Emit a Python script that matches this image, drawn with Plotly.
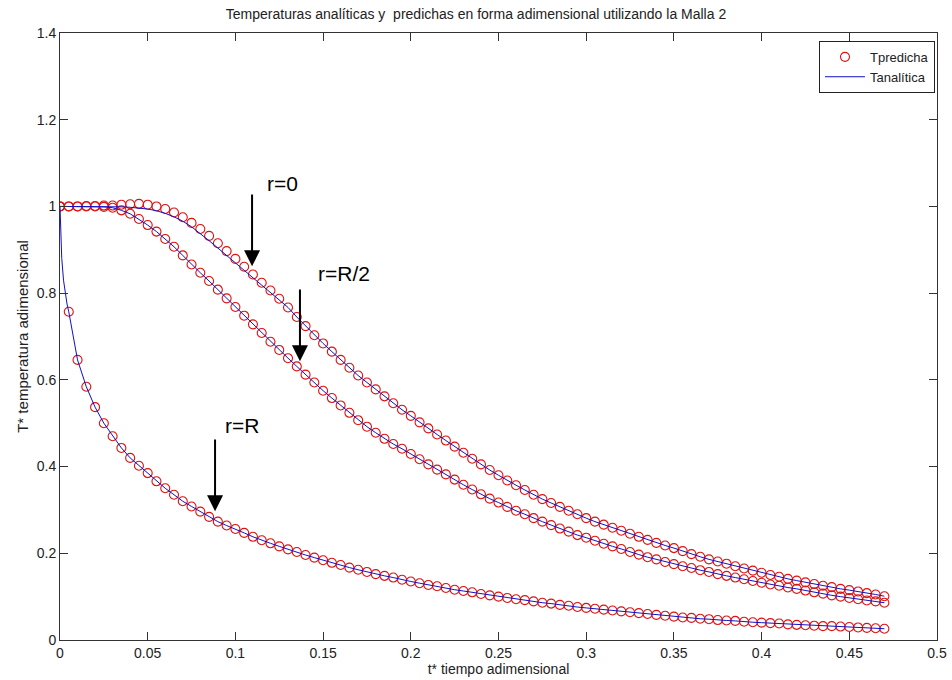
import plotly.graph_objects as go

# ---------------- data ----------------
t = [0.000, 0.005, 0.010, 0.015, 0.020, 0.025, 0.030, 0.035, 0.040, 0.045,
     0.050, 0.055, 0.060, 0.065, 0.070, 0.075, 0.080, 0.085, 0.090, 0.095,
     0.100, 0.105, 0.110, 0.115, 0.120, 0.125, 0.130, 0.135, 0.140, 0.145,
     0.150, 0.155, 0.160, 0.165, 0.170, 0.175, 0.180, 0.185, 0.190, 0.195,
     0.200, 0.205, 0.210, 0.215, 0.220, 0.225, 0.230, 0.235, 0.240, 0.245,
     0.250, 0.255, 0.260, 0.265, 0.270, 0.275, 0.280, 0.285, 0.290, 0.295,
     0.300, 0.305, 0.310, 0.315, 0.320, 0.325, 0.330, 0.335, 0.340, 0.345,
     0.350, 0.355, 0.360, 0.365, 0.370, 0.375, 0.380, 0.385, 0.390, 0.395,
     0.400, 0.405, 0.410, 0.415, 0.420, 0.425, 0.430, 0.435, 0.440, 0.445,
     0.450, 0.455, 0.460, 0.465, 0.470]

# r = 0 (centre), predicted
T_pred_r0 = [1.000, 1.000, 1.000, 1.001, 1.001, 1.002, 1.002, 1.004, 1.005, 1.006,
             1.004, 1.000, 0.994, 0.986, 0.975, 0.962, 0.948, 0.932, 0.915, 0.897,
             0.879, 0.861, 0.843, 0.824, 0.806, 0.787, 0.767, 0.745, 0.724, 0.703,
             0.684, 0.665, 0.646, 0.628, 0.610, 0.594, 0.578, 0.562, 0.546, 0.531,
             0.517, 0.502, 0.488, 0.474, 0.460, 0.446, 0.432, 0.418, 0.405, 0.392,
             0.380, 0.368, 0.357, 0.346, 0.335, 0.325, 0.316, 0.307, 0.298, 0.290,
             0.281, 0.273, 0.266, 0.259, 0.252, 0.245, 0.238, 0.231, 0.224, 0.218,
             0.212, 0.205, 0.198, 0.192, 0.186, 0.181, 0.176, 0.170, 0.165, 0.160,
             0.155, 0.150, 0.146, 0.141, 0.137, 0.133, 0.129, 0.125, 0.122, 0.118,
             0.115, 0.112, 0.108, 0.105, 0.101]

# r = 0 (centre), analytic
T_anal_r0 = [1.000, 1.000, 1.000, 1.000, 1.000, 1.000, 1.000, 0.999, 0.998, 0.996,
             0.994, 0.990, 0.984, 0.976, 0.966, 0.953, 0.938, 0.921, 0.904, 0.887,
             0.869, 0.852, 0.836, 0.819, 0.802, 0.785, 0.767, 0.745, 0.724, 0.703,
             0.684, 0.665, 0.646, 0.628, 0.610, 0.594, 0.578, 0.562, 0.546, 0.531,
             0.517, 0.502, 0.488, 0.474, 0.460, 0.446, 0.432, 0.418, 0.405, 0.392,
             0.380, 0.368, 0.357, 0.346, 0.335, 0.325, 0.316, 0.307, 0.298, 0.290,
             0.281, 0.273, 0.266, 0.259, 0.252, 0.245, 0.238, 0.231, 0.224, 0.218,
             0.212, 0.205, 0.198, 0.192, 0.186, 0.181, 0.176, 0.170, 0.165, 0.160,
             0.155, 0.150, 0.146, 0.141, 0.137, 0.133, 0.129, 0.125, 0.122, 0.118,
             0.115, 0.112, 0.108, 0.105, 0.101]

# r = R/2 (predicted and analytic coincide)
T_rhalf = [1.000, 1.000, 1.000, 1.000, 1.000, 0.999, 0.997, 0.991, 0.983, 0.971,
           0.957, 0.942, 0.925, 0.907, 0.887, 0.866, 0.847, 0.828, 0.808, 0.788,
           0.768, 0.748, 0.728, 0.708, 0.688, 0.669, 0.650, 0.631, 0.612, 0.594,
           0.575, 0.558, 0.541, 0.524, 0.507, 0.492, 0.478, 0.464, 0.452, 0.441,
           0.429, 0.417, 0.405, 0.393, 0.382, 0.370, 0.358, 0.347, 0.336, 0.326,
           0.317, 0.307, 0.298, 0.290, 0.281, 0.273, 0.265, 0.257, 0.250, 0.242,
           0.236, 0.229, 0.222, 0.216, 0.210, 0.203, 0.197, 0.191, 0.186, 0.180,
           0.175, 0.170, 0.166, 0.161, 0.157, 0.152, 0.148, 0.144, 0.140, 0.136,
           0.132, 0.128, 0.125, 0.121, 0.118, 0.114, 0.110, 0.107, 0.103, 0.100,
           0.097, 0.094, 0.091, 0.089, 0.086]

# r = R (surface)
T_rR = [1.000, 0.757, 0.646, 0.584, 0.537, 0.500, 0.470, 0.443, 0.420, 0.402,
        0.385, 0.366, 0.350, 0.335, 0.320, 0.308, 0.296, 0.284, 0.273, 0.264,
        0.256, 0.247, 0.238, 0.230, 0.223, 0.216, 0.209, 0.203, 0.196, 0.190,
        0.184, 0.178, 0.173, 0.167, 0.162, 0.157, 0.152, 0.148, 0.144, 0.139,
        0.135, 0.131, 0.127, 0.124, 0.120, 0.116, 0.113, 0.110, 0.106, 0.103,
        0.100, 0.097, 0.094, 0.092, 0.089, 0.086, 0.084, 0.081, 0.079, 0.076,
        0.074, 0.072, 0.070, 0.068, 0.066, 0.064, 0.062, 0.060, 0.058, 0.056,
        0.054, 0.052, 0.051, 0.049, 0.048, 0.046, 0.045, 0.044, 0.042, 0.041,
        0.040, 0.039, 0.038, 0.036, 0.035, 0.034, 0.033, 0.032, 0.032, 0.031,
        0.030, 0.029, 0.028, 0.027, 0.026]

# analytic surface curve has extra samples near t = 0
t_anal_R_start = [0.000, 0.001, 0.002, 0.003, 0.004]
T_anal_R_start = [1.000, 0.880, 0.830, 0.800, 0.775]

xticks = [0, 0.05, 0.1, 0.15, 0.2, 0.25, 0.3, 0.35, 0.4, 0.45, 0.5]
xticklabels = ["0", "0.05", "0.1", "0.15", "0.2", "0.25", "0.3", "0.35", "0.4", "0.45", "0.5"]
yticks = [0, 0.2, 0.4, 0.6, 0.8, 1.0, 1.2, 1.4]
yticklabels = ["0", "0.2", "0.4", "0.6", "0.8", "1", "1.2", "1.4"]

labels = ["r=0", "r=R/2", "r=R"]

# ---------------- figure ----------------
RED = "#e01010"
BLUE = "#1010c8"
FONT = "Liberation Sans Narrow, Arial Narrow, Liberation Sans, Arial, sans-serif"
TXT = "#222222"

fig = go.Figure()

pred_series = [T_pred_r0, T_rhalf, T_rR]
for i, ys in enumerate(pred_series):
    fig.add_trace(go.Scatter(
        x=t, y=ys, mode="markers", name="Tpredicha",
        legendgroup="pred", showlegend=(i == 0),
        marker=dict(symbol="circle-open", size=9, color=RED, line=dict(width=1.1, color=RED)),
    ))

anal_x = [t, t, t_anal_R_start + t[1:]]
anal_y = [T_anal_r0, T_rhalf, T_anal_R_start + T_rR[1:]]
for i in range(3):
    fig.add_trace(go.Scatter(
        x=anal_x[i], y=anal_y[i], mode="lines", name="Tanalítica",
        legendgroup="anal", showlegend=(i == 0),
        line=dict(color=BLUE, width=1),
    ))

axis_common = dict(
    showgrid=False, zeroline=False, showline=True, linecolor="#333333", linewidth=1,
    mirror="ticks", ticks="inside", ticklen=8, tickcolor="#333333", automargin=False,
    tickfont=dict(family=FONT, size=14, color=TXT),
)

fig.update_layout(
    width=952, height=680,
    margin=dict(l=60, r=15, t=33, b=40),
    paper_bgcolor="white", plot_bgcolor="white",
    title=dict(text="Temperaturas analíticas y  predichas en forma adimensional utilizando la Malla 2",
               x=0.5, xanchor="center", y=0.979, yanchor="middle",
               font=dict(family=FONT, size=14, color=TXT)),
    xaxis=dict(range=[0, 0.5], tickvals=xticks, ticktext=xticklabels,
               title=dict(text="t* tiempo adimensional", standoff=1,
                          font=dict(family=FONT, size=14, color=TXT)),
               **axis_common),
    yaxis=dict(range=[0, 1.4], tickvals=yticks, ticktext=yticklabels,
               title=dict(text="T* temperatura adimensional", standoff=4,
                          font=dict(family=FONT, size=15, color=TXT)),
               **axis_common),
    legend=dict(x=0.9977, xanchor="right", y=0.987, yanchor="top",
                bgcolor="white", bordercolor=TXT, borderwidth=1,
                font=dict(family=FONT, size=13, color=TXT),
                tracegroupgap=0, itemwidth=40),
    showlegend=True,
)

# arrows (tip, tail) and labels in data coordinates
arrows = [((0.1095, 0.862), (0.1095, 1.031)),
          ((0.1368, 0.643), (0.1368, 0.812)),
          ((0.0884, 0.297), (0.0884, 0.466))]
label_pos = [(0.127, 1.053), (0.162, 0.846), (0.104, 0.495)]

for (tip, tail), lab, lp in zip(arrows, labels, label_pos):
    fig.add_annotation(x=tip[0], y=tip[1], ax=tail[0], ay=tail[1],
                       xref="x", yref="y", axref="x", ayref="y",
                       text="", showarrow=True, arrowhead=2, arrowsize=1.6,
                       arrowwidth=2, arrowcolor="black", standoff=0)
    fig.add_annotation(x=lp[0], y=lp[1], xref="x", yref="y", text=lab,
                       showarrow=False, font=dict(family="Liberation Sans, Arial, sans-serif",
                                                  size=21, color="black"))

fig.write_html("out.html")
